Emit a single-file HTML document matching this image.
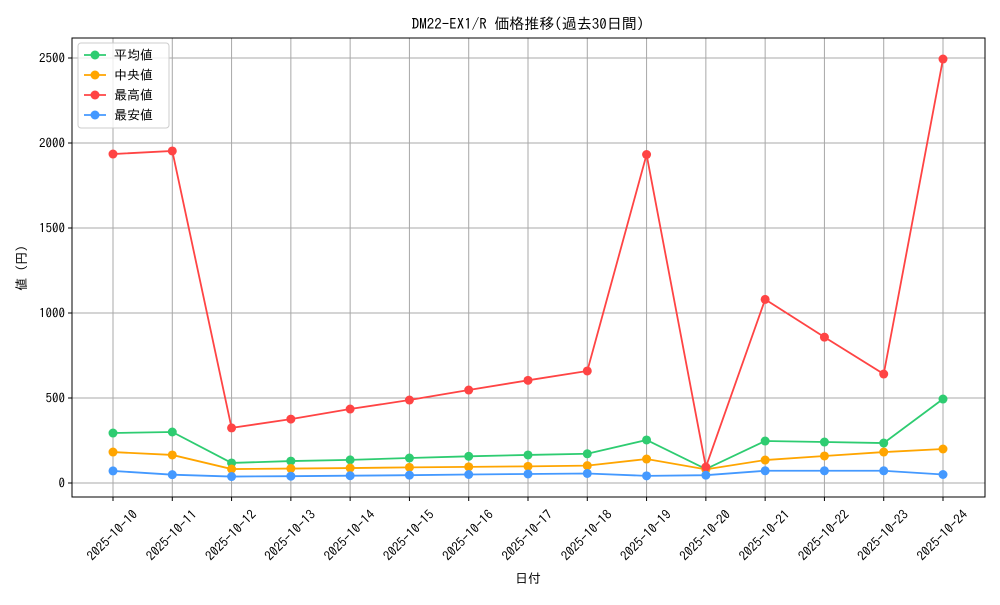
<!DOCTYPE html>
<html><head><meta charset="utf-8"><style>
body{margin:0;background:#fff}
svg text{font-family:"IPAGothic","Liberation Sans","Noto Sans CJK JP",sans-serif;fill:#000}
</style></head><body>
<svg id="c" width="1000" height="600"></svg>
<script>
const categories=["2025-10-10","2025-10-11","2025-10-12","2025-10-13","2025-10-14","2025-10-15","2025-10-16","2025-10-17","2025-10-18","2025-10-19","2025-10-20","2025-10-21","2025-10-22","2025-10-23","2025-10-24"];
const avgValues=[294,300,118,129,136,147,157,165,172,253,82,247,241,235,494];
const medianValues=[182,165,82,85,88,92,95,98,102,141,80,135,159,182,200];
const maxValues=[1935,1953,324,376,435,488,547,604,659,1932,94,1080,858,641,2494];
const minValues=[71,49,38,40,43,46,50,53,56,42,46,72,72,72,50];
const yTicks=[0,500,1000,1500,2000,2500];
const seriesNames=["平均値","中央値","最高値","最安値"];
const colors=["#2ecc71","#ffa500","#ff4444","#4499ff"];
const NS="http://www.w3.org/2000/svg";
const svg=document.getElementById('c');
const L=72,R=985,T=38,B=497;
const xs=i=>113+i*(943-113)/(categories.length-1);
const ys=v=>483-v*425/2500;
function mk(t,a,p){const e=document.createElementNS(NS,t);for(const k in a)e.setAttribute(k,a[k]);(p||svg).appendChild(e);return e;}
categories.forEach((c,i)=>{const g=mk('line',{x1:xs(i),x2:xs(i),y1:T,y2:B,stroke:'#a8a8a8','stroke-width':1});


mk('line',{x1:xs(i),x2:xs(i),y1:B,y2:B+4,stroke:'#000'});
const cx=xs(i),cy=536;
const t=mk('text',{x:cx,y:cy,'font-size':13,'text-anchor':'middle','dominant-baseline':'middle',transform:`rotate(-45 ${cx} ${cy})`});
t.textContent=c;

});
yTicks.forEach(v=>{const g=mk('line',{x1:L,x2:R,y1:ys(v),y2:ys(v),stroke:'#a8a8a8','stroke-width':1});


mk('line',{x1:L-4,x2:L,y1:ys(v),y2:ys(v),stroke:'#000'});
const t=mk('text',{x:L-7,y:ys(v)+4.5,'font-size':13,'text-anchor':'end'});
t.textContent=v;

});
const fr=mk('rect',{x:L,y:T,width:R-L,height:B-T,fill:'none',stroke:'#000','stroke-width':1});


const all=[avgValues,medianValues,maxValues,minValues];
all.forEach((d,s)=>{const g=mk('g',{});


mk('polyline',{points:d.map((v,i)=>xs(i)+','+ys(v)).join(' '),fill:'none',stroke:colors[s],'stroke-width':1.8},g);
d.forEach((v,i)=>{const p=mk('circle',{cx:xs(i),cy:ys(v),r:4.5,fill:colors[s]},g);

});});
const lg=mk('g',{});


mk('rect',{x:78,y:43,width:91,height:85,rx:3,fill:'#fff','fill-opacity':0.8,stroke:'#ccc'},lg);
seriesNames.forEach((n,s)=>{const y=55+s*20;
mk('line',{x1:84,x2:106,y1:y,y2:y,stroke:colors[s],'stroke-width':1.8},lg);
mk('circle',{cx:95,cy:y,r:4.5,fill:colors[s]},lg);
const t=mk('text',{x:114,y:y+4.5,'font-size':13},lg);t.textContent=n;

});
const ti=mk('text',{x:528,y:29,'font-size':15,'text-anchor':'middle'});ti.textContent='DM22-EX1/R 価格推移(過去30日間)';


const xt=mk('text',{x:528,y:583,'font-size':13,'text-anchor':'middle'});xt.textContent='日付';


const yt=mk('text',{x:26,y:268,'font-size':13,'text-anchor':'middle',transform:'rotate(-90 26 268)'});yt.textContent='値 (円)';


</script></body></html>
